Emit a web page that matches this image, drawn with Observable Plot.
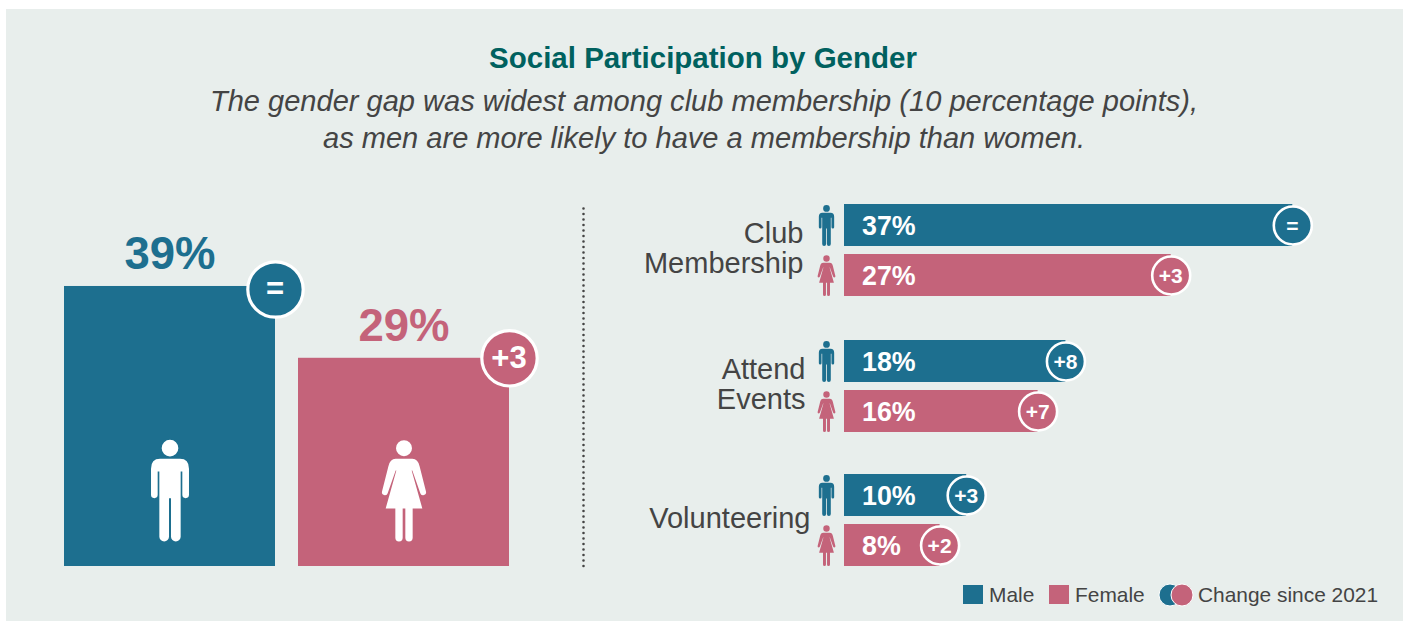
<!DOCTYPE html>
<html>
<head>
<meta charset="utf-8">
<script src="https://cdn.jsdelivr.net/npm/d3@7"></script>
<script src="https://cdn.jsdelivr.net/npm/@observablehq/plot@0.6"></script>
<style>
  html, body { margin: 0; padding: 0; background: #fff; }
  body { width: 1403px; height: 621px; position: relative; overflow: hidden; font-family: "Liberation Sans", Arial, sans-serif; }
  #panel { position: absolute; left: 6px; top: 9px; width: 1397px; height: 612px; background: #e8eeec; }
  h1 { position: absolute; left: 0; top: 44px; width: 1406px; margin: 0; text-align: center; font-size: 29.5px; line-height: 28px; font-weight: 700; color: #00615f; }
  p.sub { position: absolute; left: 0; top: 83px; width: 1408px; margin: 0; text-align: center; font-size: 29.05px; line-height: 37px; font-style: italic; color: #444; }
  #left, #right { position: absolute; top: 190px; }
  #left { left: 0; }
  #right { left: 590px; }
  .lg { position: absolute; top: 583px; height: 24px; line-height: 24px; font-size: 20.9px; color: #444; white-space: nowrap; }
  .sw { position: absolute; top: 585px; width: 20px; height: 19px; }
  #lgc { position: absolute; left: 1155px; top: 582px; }
</style>
</head>
<body>
<div id="panel"></div>
<h1>Social Participation by Gender</h1>
<p class="sub">The gender gap was widest among club membership (10 percentage points),<br>as men are more likely to have a membership than women.</p>
<div id="left"></div>
<div id="right"></div>
<div class="sw" style="left:963px;background:#1d6f8f"></div>
<div class="lg" style="left:989px">Male</div>
<div class="sw" style="left:1049px;background:#c4637a"></div>
<div class="lg" style="left:1075px">Female</div>
<svg id="lgc" width="40" height="26">
  <circle cx="15" cy="13" r="11" fill="#1d6f8f" stroke="#fff" stroke-width="1"/>
  <circle cx="27" cy="13" r="11" fill="#c4637a" stroke="#fff" stroke-width="1"/>
</svg>
<div class="lg" style="left:1198px">Change since 2021</div>
<script>
const genders = ["Male", "Female"];
const genderColors = ["#1d6f8f", "#c4637a"];
const overallValues = [39, 29];
const overallChanges = ["=", "+3"];
const activities = ["Club Membership", "Attend Events", "Volunteering"];
const activityLabels = ["Club\nMembership", "Attend\nEvents", "Volunteering"];
const maleValues = [37.05, 18.3, 10.1];
const femaleValues = [27, 16, 7.9];
const maleChanges = ["=", "+8", "+3"];
const femaleChanges = ["+3", "+7", "+2"];

const FONT = "'Liberation Sans', Arial, sans-serif";
const pct = (v) => `${Math.round(v)}%`;

// Pictogram outlines, drawn as custom dot symbols (unit box half-height = 152.5).
const maleIcon = {
  draw(c, size) {
    const k = Math.sqrt(size / Math.PI) / 152.5;
    const M = (x, y) => c.moveTo(x * k, y * k), L = (x, y) => c.lineTo(x * k, y * k);
    const Q = (a, b, x, y) => c.quadraticCurveTo(a * k, b * k, x * k, y * k);
    const A = (x, y, r) => c.arc(x * k, y * k, r * k, 0, Math.PI);
    M(25, -127); c.arc(0, -127 * k, 25 * k, 0, 2 * Math.PI); c.closePath();
    M(-30, -95); L(30, -95); Q(57, -95, 57, -65); L(57, 13); A(47, 13, 10);
    L(37, -57); L(32, -57); L(32, 138.5); A(17.5, 138.5, 14.5);
    L(3, 23); L(-3, 23); L(-3, 138.5); A(-17.5, 138.5, 14.5);
    L(-32, -57); L(-37, -57); L(-37, 13); A(-47, 13, 10);
    L(-57, -65); Q(-57, -95, -30, -95); c.closePath();
  }
};
const femaleIcon = {
  draw(c, size) {
    const k = Math.sqrt(size / Math.PI) / 152.5;
    const M = (x, y) => c.moveTo(x * k, y * k), L = (x, y) => c.lineTo(x * k, y * k);
    const Q = (a, b, x, y) => c.quadraticCurveTo(a * k, b * k, x * k, y * k);
    const A = (x, y, r) => c.arc(x * k, y * k, r * k, 0, Math.PI);
    M(24, -127); c.arc(0, -127 * k, 24 * k, 0, 2 * Math.PI); c.closePath();
    M(-25, -95); L(25, -95); Q(42, -95, 47, -72); L(66, 3); Q(68, 13, 58, 14); Q(51, 15, 49, 8);
    L(25, -60); L(23, -60); L(55, 54); L(26, 54); L(26, 142); A(15, 142, 11);
    L(4, 54); L(-4, 54); L(-4, 142); A(-15, 142, 11);
    L(-26, 54); L(-55, 54); L(-23, -60); L(-25, -60); L(-49, 8); Q(-51, 15, -58, 14); Q(-68, 13, -66, 3);
    L(-47, -72); Q(-42, -95, -25, -95); c.closePath();
  }
};
const icons = [maleIcon, femaleIcon];

// ---- Left panel: overall participation ----
const overall = genders.map((gender, i) => ({ gender, value: overallValues[i], change: overallChanges[i], bump: i === 0 ? 3 : 0, icon: icons[i] }));
const leftPlot = Plot.plot({
  width: 590, height: 390,
  marginLeft: 64, marginRight: 81, marginTop: 17, marginBottom: 14,
  style: { fontFamily: FONT, background: "transparent", overflow: "visible" },
  x: { domain: genders, axis: null, paddingInner: 23 / 234, paddingOuter: 0, round: false, label: null },
  y: { domain: [0, 50], axis: null, label: null },
  color: { domain: genders, range: genderColors },
  marks: [
    Plot.barY(overall, { x: "gender", y: "value", fill: "gender" }),
    Plot.ruleX(["Female"], { y1: 0, y2: 50, dx: 179.5, stroke: "#444", strokeWidth: 2.6, strokeLinecap: "round", strokeDasharray: "0 5.5" }),
    ...overall.flatMap((d) => [
      Plot.dot([d], { x: "gender", y: 0, dy: -76, r: 50.8, symbol: d.icon, fill: "#fff", stroke: "none" }),
      Plot.text([d], { x: "gender", y: "value", text: (r) => pct(r.value), fill: "gender", fontSize: 45.5, fontWeight: 700, lineAnchor: "bottom", dy: -17 }),
      Plot.dot([d], { x: "gender", y: "value", dx: 105.5, dy: d.bump, r: 27.7, fill: "gender", stroke: "#fff", strokeWidth: 3.2 }),
      Plot.text([d], { x: "gender", y: "value", dx: 105, dy: d.bump, text: "change", fill: "#fff", fontSize: 31, fontWeight: 700 })
    ])
  ]
});
document.getElementById("left").append(leftPlot);

// ---- Right panel: by activity ----
const labelGaps = [41, 39, 34];
const rowShift = [0, 1, 0];
const rightPlot = Plot.plot({
  width: 813, height: 390,
  marginLeft: 254, marginRight: 75, marginTop: 14, marginBottom: 14,
  style: { fontFamily: FONT, background: "transparent", overflow: "visible" },
  x: { domain: [0, 40], axis: null, label: null },
  y: { domain: genders, axis: null, paddingInner: 8 / 50, paddingOuter: 0, round: false, label: null },
  fy: { domain: activities, axis: null, paddingInner: 43 / 135, paddingOuter: 0, round: false, label: null },
  color: { domain: genders, range: genderColors },
  marks: activities.flatMap((activity, i) => {
    const rows = [
      { activity, gender: "Male", value: maleValues[i], change: maleChanges[i] },
      { activity, gender: "Female", value: femaleValues[i], change: femaleChanges[i] }
    ];
    const dy = rowShift[i];
    return [
      Plot.barX(rows, { fy: "activity", y: "gender", x: "value", fill: "gender", dy }),
      ...genders.map((g, j) => Plot.dot(rows.filter((d) => d.gender === g), { fy: "activity", y: "gender", x: 0, dx: -18, dy, r: 20.5, symbol: icons[j], fill: "gender", stroke: "none" })),
      Plot.text(rows, { fy: "activity", y: "gender", x: 0, dx: 17.5, dy: dy + 1, text: (d) => pct(d.value), textAnchor: "start", fill: "#fff", fontSize: 26.8, fontWeight: 700 }),
      Plot.dot(rows, { fy: "activity", y: "gender", x: "value", dy, r: 19, fill: "gender", stroke: "#fff", strokeWidth: 2.6 }),
      Plot.text(rows, { fy: "activity", y: "gender", x: "value", dx: -0.5, dy: dy + 0.5, text: "change", fill: "#fff", fontSize: 21, fontWeight: 700 }),
      Plot.text([{ activity, label: activityLabels[i] }], { fy: "activity", x: 0, dx: -labelGaps[i], dy: dy - 2, text: "label", textAnchor: "end", fill: "#444", fontSize: 29, lineHeight: 1.03, frameAnchor: "middle" })
    ];
  })
});
document.getElementById("right").append(rightPlot);
</script>
</body>
</html>
